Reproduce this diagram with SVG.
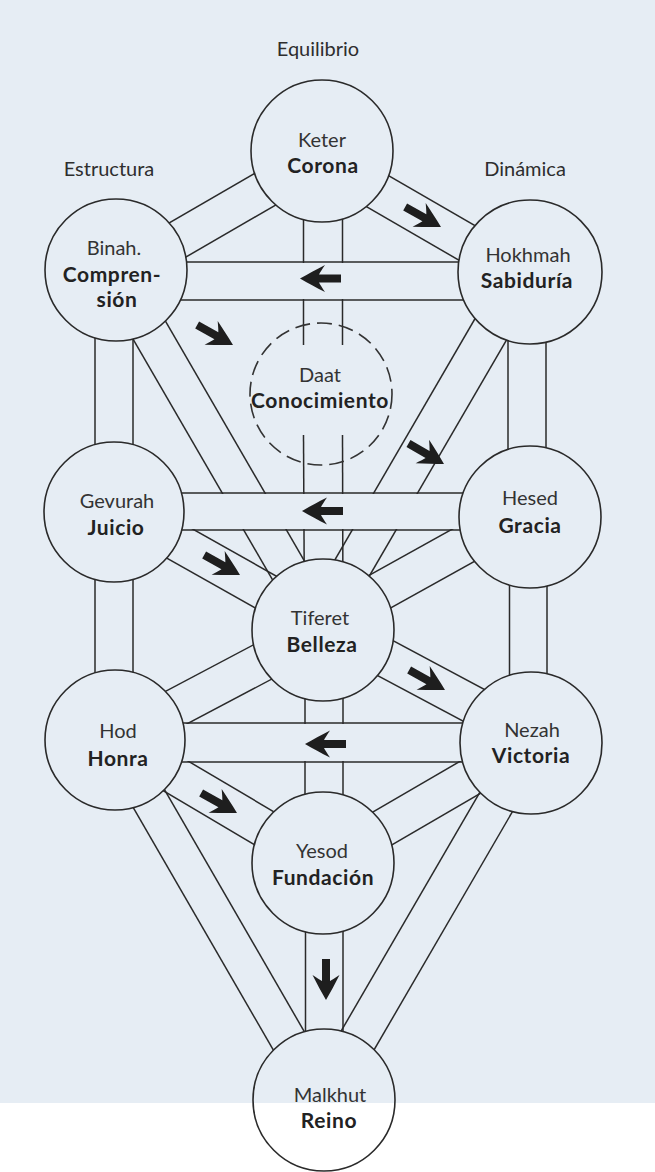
<svg xmlns="http://www.w3.org/2000/svg" width="655" height="1172" viewBox="0 0 655 1172">
<style>
.bg{fill:#e6edf4}
.ch line{stroke:#2a2a2a;stroke-width:1.5;fill:none}
.node{fill:none;stroke:#2a2a2a;stroke-width:1.6}
.dash{fill:none;stroke:#333;stroke-width:1.6;stroke-dasharray:15 7}
text{font-family:Lato,"Open Sans","DejaVu Sans",sans-serif;text-anchor:middle}
.r{font-size:20px;fill:#333}
.b{font-size:21px;font-weight:bold;fill:#222;letter-spacing:0.6px}
.t{font-size:20px;fill:#2e2e2e}
.arr{fill:#1e1e1e}
</style>
<defs>
<path id="ar" d="M0,0 C-8,-4.5 -16,-9 -25,-13.5 C-22,-9 -20,-6 -19,-4 L-41,-4 L-41,4 L-19,4 C-20,6 -22,9 -25,13.5 C-16,9 -8,4.5 0,0 Z"/>
<mask id="m" maskUnits="userSpaceOnUse" x="0" y="0" width="655" height="1172">
<rect width="655" height="1172" fill="#fff"/>
<circle cx="322" cy="151" r="71" fill="#000"/>
<circle cx="116" cy="270" r="71" fill="#000"/>
<circle cx="530" cy="272" r="72" fill="#000"/>
<circle cx="114" cy="512" r="70" fill="#000"/>
<circle cx="530" cy="517" r="71" fill="#000"/>
<circle cx="323" cy="630" r="71" fill="#000"/>
<circle cx="115" cy="740" r="70" fill="#000"/>
<circle cx="531" cy="743" r="71" fill="#000"/>
<circle cx="323" cy="863" r="71" fill="#000"/>
<circle cx="324" cy="1100" r="71" fill="#000"/>
<rect x="115" y="263" width="416" height="36" fill="#000"/>
<rect x="114" y="494" width="416" height="35" fill="#000"/>
<rect x="115" y="724" width="416" height="37" fill="#000"/>
</mask>
</defs>
<rect class="bg" x="0" y="0" width="655" height="1103"/>
<rect x="0" y="1103" width="655" height="69" fill="#fff"/>

<g id="titles">
<text class="t" x="318" y="56">Equilibrio</text>
<text class="t" x="109" y="176">Estructura</text>
<text class="t" x="525" y="176">Dinámica</text>
</g>

<g id="connectors" class="ch" mask="url(#m)">
<line x1="126.8" y1="291.3" x2="333.8" y2="171.3"/>
<line x1="107.8" y1="258.5" x2="314.8" y2="138.5"/>
<line x1="309" y1="173.4" x2="518" y2="294.4"/>
<line x1="328" y1="140.6" x2="537" y2="261.6"/>
<line x1="303.5" y1="151" x2="303.5" y2="345"/>
<line x1="342.5" y1="151" x2="342.5" y2="345"/>
<line x1="303.5" y1="435" x2="304.5" y2="630"/>
<line x1="342.5" y1="435" x2="343" y2="630"/>
<line x1="116" y1="262" x2="530" y2="262"/>
<line x1="116" y1="300" x2="530" y2="300"/>
<line x1="542.2" y1="278.5" x2="334.2" y2="636.5"/>
<line x1="509.4" y1="259.5" x2="301.4" y2="617.5"/>
<line x1="131" y1="261.7" x2="339" y2="620.7"/>
<line x1="99" y1="280.3" x2="307" y2="639.3"/>
<line x1="95" y1="270" x2="95" y2="512"/>
<line x1="133" y1="270" x2="133" y2="512"/>
<line x1="508" y1="272" x2="508" y2="517"/>
<line x1="546" y1="272" x2="546" y2="517"/>
<line x1="114" y1="493" x2="530" y2="493"/>
<line x1="114" y1="530" x2="530" y2="530"/>
<line x1="126.8" y1="492" x2="334.8" y2="609"/>
<line x1="108.2" y1="525.2" x2="316.2" y2="642.2"/>
<line x1="517.6" y1="492.8" x2="310.6" y2="607.8"/>
<line x1="536.6" y1="526.8" x2="329.6" y2="641.8"/>
<line x1="95" y1="512" x2="95" y2="740"/>
<line x1="133" y1="512" x2="133" y2="740"/>
<line x1="509.5" y1="517" x2="509.5" y2="743"/>
<line x1="547" y1="517" x2="547" y2="743"/>
<line x1="105.9" y1="722.9" x2="313.9" y2="612.9"/>
<line x1="124.1" y1="757.2" x2="332.1" y2="647.2"/>
<line x1="334" y1="609.2" x2="542" y2="720.2"/>
<line x1="316.2" y1="642.8" x2="524.2" y2="753.8"/>
<line x1="305" y1="630" x2="305" y2="863"/>
<line x1="343" y1="630" x2="343" y2="863"/>
<line x1="115" y1="723" x2="531" y2="723"/>
<line x1="115" y1="762" x2="531" y2="762"/>
<line x1="124.7" y1="723.6" x2="332.7" y2="846.6"/>
<line x1="105.3" y1="756.4" x2="313.3" y2="879.4"/>
<line x1="521.4" y1="725.6" x2="313.4" y2="846.6"/>
<line x1="540.6" y1="758.4" x2="332.6" y2="879.4"/>
<line x1="130.6" y1="731" x2="338.6" y2="1091"/>
<line x1="99.4" y1="749" x2="307.4" y2="1109"/>
<line x1="547.4" y1="751.5" x2="339.4" y2="1109.5"/>
<line x1="514.6" y1="732.5" x2="306.6" y2="1090.5"/>
<line x1="305.5" y1="863" x2="305.5" y2="1100"/>
<line x1="343" y1="863" x2="343" y2="1100"/>
</g>

<g id="arrows" class="arr">
<use href="#ar" transform="translate(441,227) rotate(29)"/>
<use href="#ar" transform="translate(300,278.5) rotate(180)"/>
<use href="#ar" transform="translate(233,345) rotate(29)"/>
<use href="#ar" transform="translate(444,464) rotate(30)"/>
<use href="#ar" transform="translate(302,511) rotate(180)"/>
<use href="#ar" transform="translate(240,575) rotate(29)"/>
<use href="#ar" transform="translate(445,690) rotate(29)"/>
<use href="#ar" transform="translate(305,744) rotate(180)"/>
<use href="#ar" transform="translate(237,813) rotate(29)"/>
<use href="#ar" transform="translate(326,1000) rotate(90)"/>
</g>

<g id="keter"><circle class="node" cx="322" cy="151" r="71"/>
<text class="r" x="322" y="147">Keter</text><text class="b" x="323" y="173">Corona</text></g>
<g id="binah"><circle class="node" cx="116" cy="270" r="71"/>
<text class="r" x="114" y="255">Binah.</text><text class="b" x="112" y="282">Compren-</text><text class="b" x="117" y="307">sión</text></g>
<g id="hokhmah"><circle class="node" cx="530" cy="272" r="72"/>
<text class="r" x="528" y="262">Hokhmah</text><text class="b" x="527" y="288">Sabiduría</text></g>
<g id="daat"><circle class="dash" cx="321" cy="394" r="71"/>
<text class="r" x="320" y="382">Daat</text><text class="b" x="320" y="408">Conocimiento</text></g>
<g id="gevurah"><circle class="node" cx="114" cy="512" r="70"/>
<text class="r" x="117" y="508">Gevurah</text><text class="b" x="116" y="535">Juicio</text></g>
<g id="hesed"><circle class="node" cx="530" cy="517" r="71"/>
<text class="r" x="530" y="505">Hesed</text><text class="b" x="530" y="533">Gracia</text></g>
<g id="tiferet"><circle class="node" cx="323" cy="630" r="71"/>
<text class="r" x="320" y="625">Tiferet</text><text class="b" x="322" y="652">Belleza</text></g>
<g id="hod"><circle class="node" cx="115" cy="740" r="70"/>
<text class="r" x="118" y="738">Hod</text><text class="b" x="118" y="766">Honra</text></g>
<g id="nezah"><circle class="node" cx="531" cy="743" r="71"/>
<text class="r" x="532" y="737">Nezah</text><text class="b" x="531" y="763">Victoria</text></g>
<g id="yesod"><circle class="node" cx="323" cy="863" r="71"/>
<text class="r" x="322" y="858">Yesod</text><text class="b" x="323" y="885">Fundación</text></g>
<g id="malkhut"><circle class="node" cx="324" cy="1100" r="71"/>
<text class="r" x="330" y="1102">Malkhut</text><text class="b" x="329" y="1128">Reino</text></g>
</svg>
